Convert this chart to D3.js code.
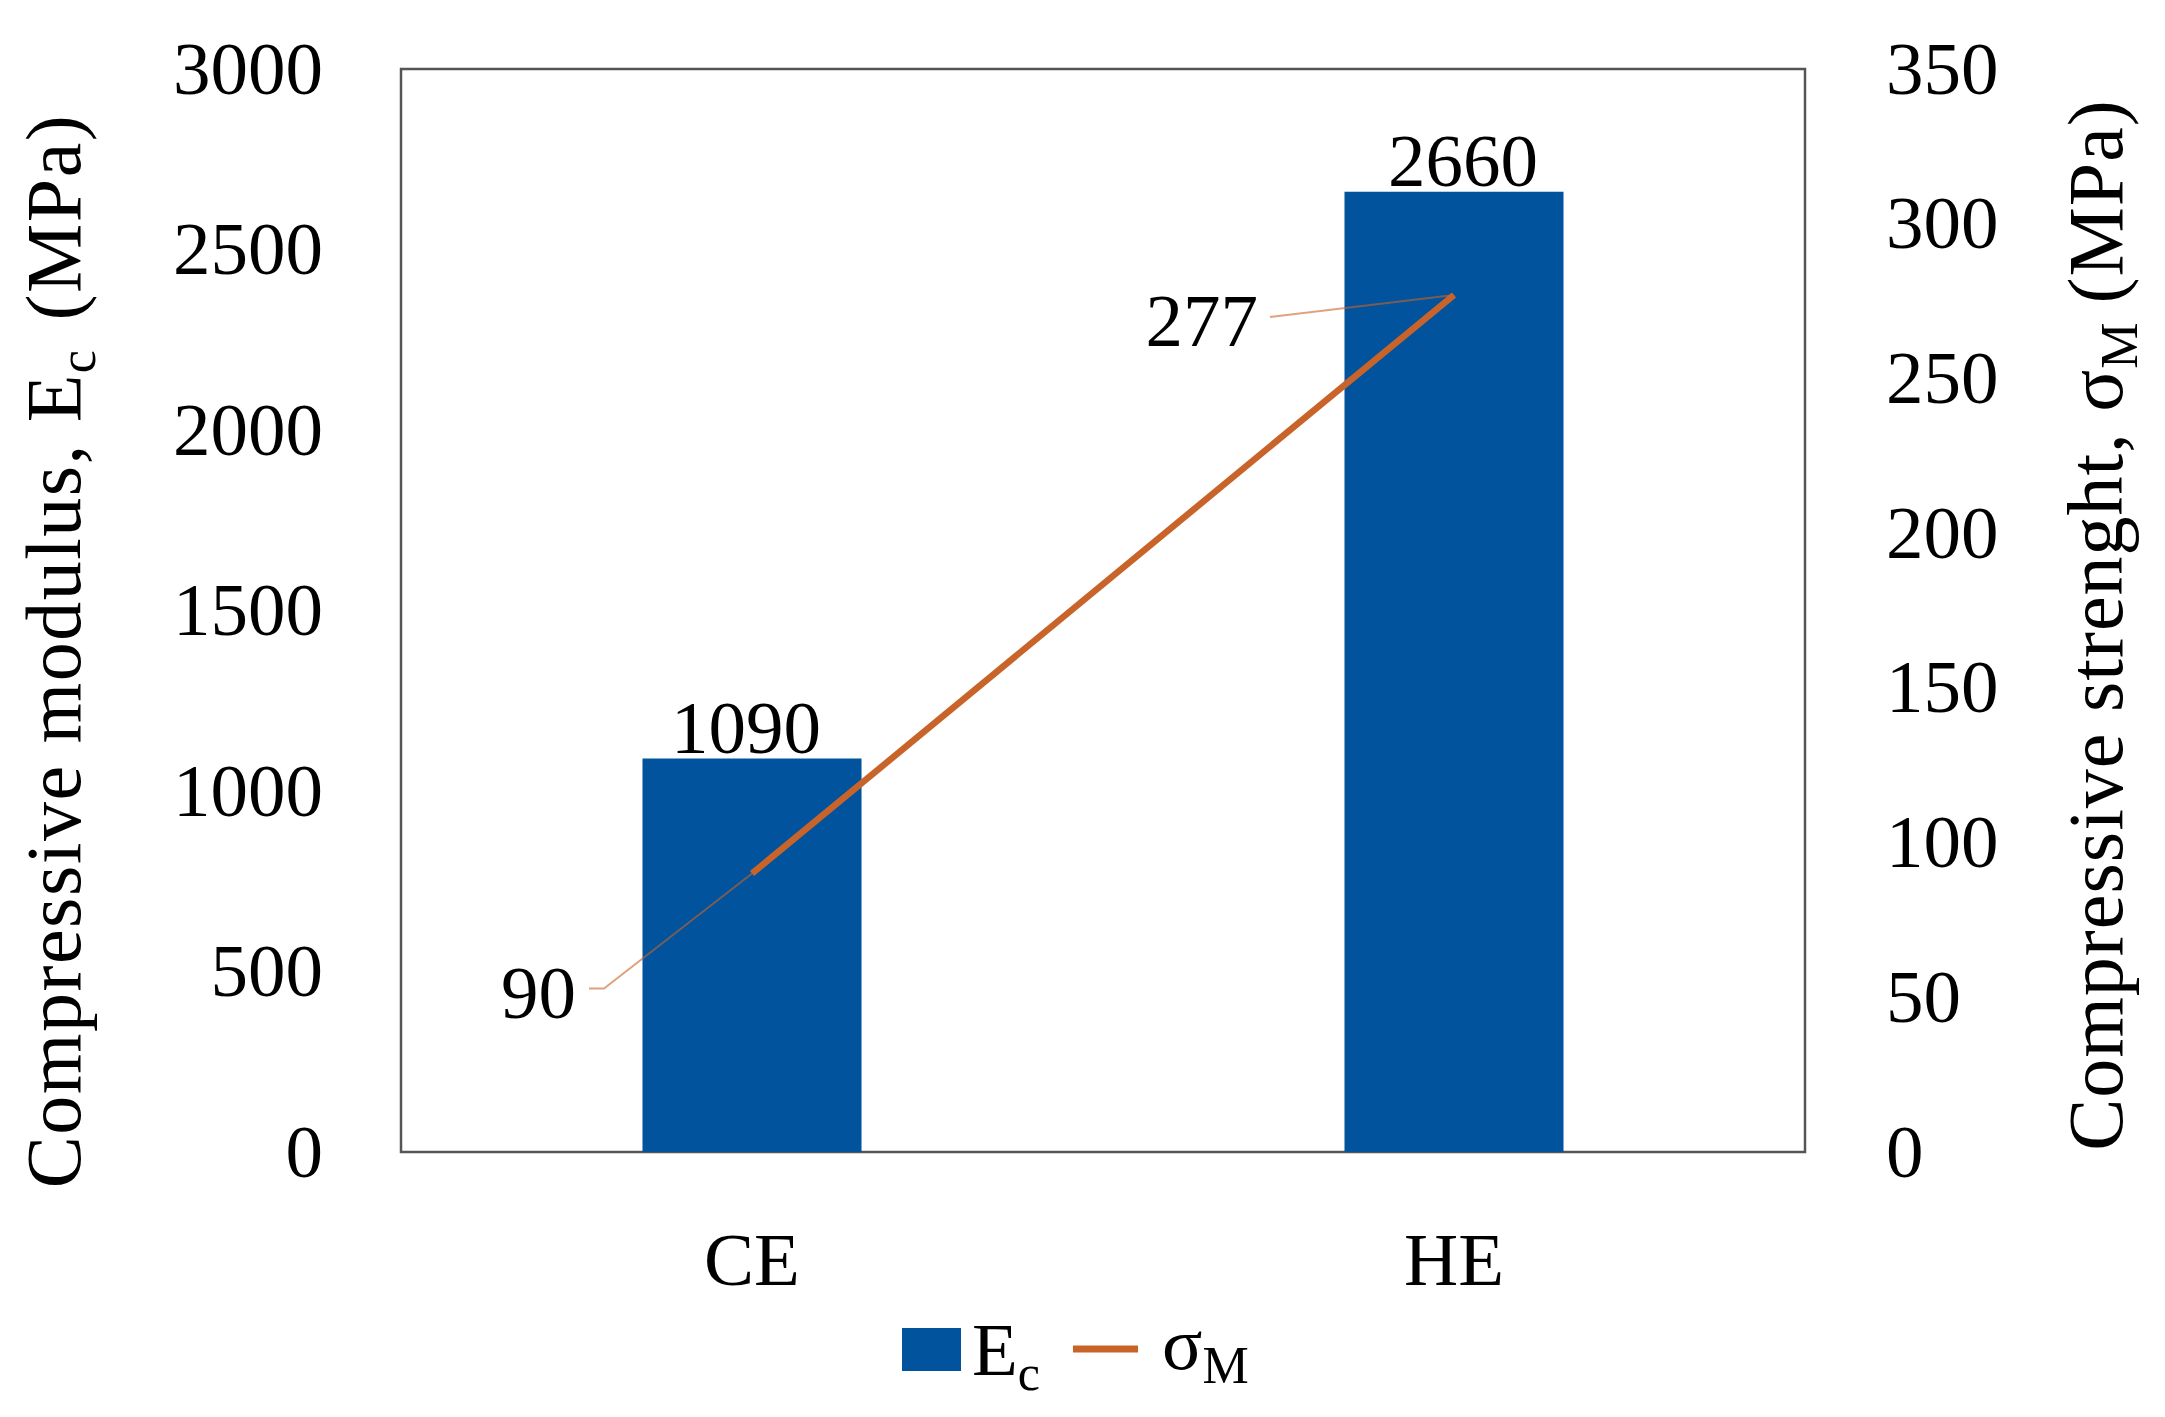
<!DOCTYPE html>
<html>
<head>
<meta charset="utf-8">
<script src="https://cdn.jsdelivr.net/npm/d3@7"></script>
<style>
  body { margin: 0; background: #fff; }
  svg text { font-family: "Liberation Serif", "DejaVu Serif", serif; fill: #000; }
</style>
</head>
<body>
<svg width="2165" height="1417"></svg>
<script>
// values
var categories = ["CE", "HE"];
var modulus = [1090, 2660];      // Ec, MPa (bars, left axis)
var strength = [90, 277];        // sigma M, MPa (line, right axis)
var leftTicks = [0, 500, 1000, 1500, 2000, 2500, 3000];
var rightTicks = [0, 50, 100, 150, 200, 250, 300, 350];

var barColor = "#00539c",
    lineColor = "#c8642a";

var svg = d3.select("svg"),
    pLeft = 401, pRight = 1805, pTop = 69, pBottom = 1152,
    fs = 75;

var x = d3.scaleBand().domain(categories).range([pLeft, pRight]).padding(0),
    yL = d3.scaleLinear().domain([0, 3000]).range([pBottom, pTop]),
    yR = d3.scaleLinear().domain([0, 350]).range([pBottom, pTop]);

var barW = x.bandwidth() * 0.312;
function cx(d) { return x(d) + x.bandwidth() / 2; }

// frame
svg.append("rect")
    .attr("x", pLeft).attr("y", pTop)
    .attr("width", pRight - pLeft).attr("height", pBottom - pTop)
    .attr("fill", "none")
    .attr("stroke", "#555")
    .attr("stroke-width", 2.5);

// axes
var gl = svg.append("g")
    .attr("transform", "translate(" + pLeft + ",0)")
    .call(d3.axisLeft(yL).tickValues(leftTicks).tickFormat(d3.format("d")).tickSize(0).tickPadding(78));
var gr = svg.append("g")
    .attr("transform", "translate(" + pRight + ",0)")
    .call(d3.axisRight(yR).tickValues(rightTicks).tickFormat(d3.format("d")).tickSize(0).tickPadding(81));
var gx = svg.append("g")
    .attr("transform", "translate(0," + pBottom + ")")
    .call(d3.axisBottom(x).tickSize(0).tickPadding(80));
[gl, gr, gx].forEach(function(g) {
    g.select(".domain").remove();
    g.selectAll("text")
        .attr("font-family", "Liberation Serif")
        .attr("font-size", fs)
        .attr("fill", "#000");
});
gx.selectAll("text").attr("dy", "0.71em");

// bars
svg.selectAll(".bar")
    .data(categories)
    .enter().append("rect")
    .attr("class", "bar")
    .attr("x", function(d) { return cx(d) - barW / 2; })
    .attr("y", function(d, i) { return yL(modulus[i]); })
    .attr("width", barW)
    .attr("height", function(d, i) { return pBottom - yL(modulus[i]); })
    .attr("fill", barColor);

// bar value labels (small horizontal nudge as in the original)
var labelShift = [-6, 9];
svg.selectAll(".blab")
    .data(categories)
    .enter().append("text")
    .attr("x", function(d, i) { return cx(d) + labelShift[i]; })
    .attr("y", function(d, i) { return yL(modulus[i]) - 6; })
    .attr("text-anchor", "middle")
    .attr("font-size", fs)
    .text(function(d, i) { return modulus[i]; });

// leader lines for the line labels (offsets from the data point)
var leaders = [
    { dx: -163, dy: 115, kx: -148, ky: 115, tx: -176, ty: 144 },
    { dx: -184, dy: 22, kx: -184, ky: 22, tx: -196, ty: 51 }
];
categories.forEach(function(d, i) {
    var px = cx(d), py = yR(strength[i]), o = leaders[i];
    svg.append("path")
        .attr("d", "M" + (px + o.dx) + "," + (py + o.dy) +
                   "L" + (px + o.kx) + "," + (py + o.ky) +
                   "L" + px + "," + py)
        .attr("fill", "none")
        .attr("stroke", lineColor)
        .attr("stroke-opacity", 0.6)
        .attr("stroke-width", 2);
    svg.append("text")
        .attr("x", px + o.tx)
        .attr("y", py + o.ty)
        .attr("text-anchor", "end")
        .attr("font-size", fs)
        .text(strength[i]);
});

// strength line
var line = d3.line()
    .x(function(d, i) { return cx(categories[i]); })
    .y(function(d) { return yR(d); });
svg.append("path")
    .datum(strength)
    .attr("d", line)
    .attr("fill", "none")
    .attr("stroke", lineColor)
    .attr("stroke-width", 6.5);

// axis titles
var tl = svg.append("text")
    .attr("transform", "translate(80," + 651 + ") rotate(-90)")
    .attr("text-anchor", "middle")
    .attr("font-size", 78)
    .attr("letter-spacing", 1.5);
tl.append("tspan").text("Compressive modulus, E");
tl.append("tspan").attr("font-size", 52).attr("dy", 15).text("c");
tl.append("tspan").attr("dy", -15).attr("dx", 28).text("(MPa)");

var tr = svg.append("text")
    .attr("transform", "translate(2122," + 625 + ") rotate(-90)")
    .attr("text-anchor", "middle")
    .attr("font-size", 78)
    .attr("letter-spacing", 1);
tr.append("tspan").text("Compressive strenght, σ");
tr.append("tspan").attr("font-size", 52).attr("dy", 15).text("M");
tr.append("tspan").attr("dy", -15).attr("dx", 18).text("(MPa)");

// legend
var lg = svg.append("g");
lg.append("rect")
    .attr("x", 902).attr("y", 1328)
    .attr("width", 59).attr("height", 43)
    .attr("fill", barColor);
var le = lg.append("text").attr("x", 972).attr("y", 1375).attr("font-size", fs);
le.append("tspan").text("E");
le.append("tspan").attr("font-size", 50).attr("dy", 15).text("c");
lg.append("line")
    .attr("x1", 1073).attr("x2", 1138)
    .attr("y1", 1349).attr("y2", 1349)
    .attr("stroke", lineColor)
    .attr("stroke-width", 7);
var ls = lg.append("text").attr("x", 1162).attr("y", 1369).attr("font-size", fs);
ls.append("tspan").text("σ");
ls.append("tspan").attr("font-size", 52).attr("dy", 14).text("M");
</script>
</body>
</html>
